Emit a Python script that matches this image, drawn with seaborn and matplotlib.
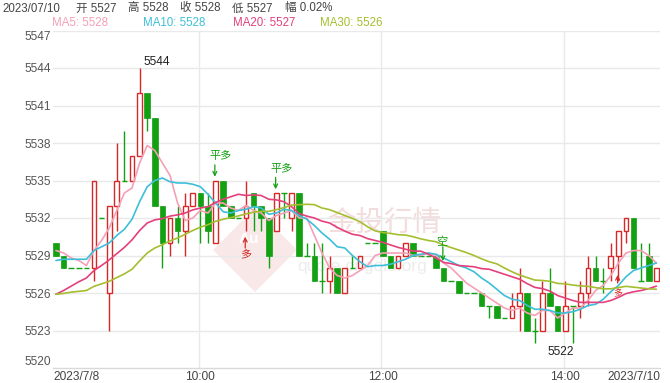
import numpy as np
import pandas as pd
import matplotlib
matplotlib.use("Agg")
import matplotlib.pyplot as plt
import seaborn as sns
from matplotlib.patches import Rectangle, Polygon
from matplotlib.transforms import ScaledTranslation

# ---------------- data (5-minute candles) ----------------
opens = [5530, 5529, 5528, 5528, 5528, 5528, 5532, 5526, 5533, 5535,
         5535, 5537, 5542, 5540, 5533, 5530, 5532, 5531, 5533, 5534,
         5533, 5530, 5535, 5533, 5532, 5532, 5534, 5533, 5532, 5531,
         5534, 5532, 5534, 5529, 5529, 5527, 5527, 5528, 5526, 5528,
         5528, 5530, 5530, 5531, 5529, 5528, 5529, 5530, 5529, 5529,
         5529, 5528, 5527, 5527, 5526, 5526, 5526, 5525, 5525, 5524,
         5524, 5525, 5526, 5523, 5523, 5526, 5525, 5523, 5525, 5525,
         5526, 5528, 5527, 5528, 5529, 5531, 5532, 5527, 5529, 5527]
highs = [5530, 5529, 5528, 5528, 5528, 5535, 5532, 5533, 5538, 5539,
         5537, 5544, 5542, 5540, 5533, 5532, 5533, 5534, 5534, 5534,
         5534, 5535, 5535, 5533, 5532, 5535, 5534, 5533, 5532, 5534,
         5534, 5534, 5534, 5530, 5530, 5530, 5529, 5528, 5528, 5529,
         5529, 5530, 5530, 5531, 5529, 5529, 5530, 5530, 5529, 5529,
         5529, 5528, 5527, 5527, 5526, 5526, 5526, 5525, 5525, 5524,
         5526, 5528, 5526, 5524, 5527, 5528, 5525, 5527, 5525, 5527,
         5529, 5529, 5528, 5530, 5531, 5532, 5532, 5530, 5530, 5528]
lows = [5529, 5528, 5528, 5528, 5528, 5527, 5532, 5523, 5531, 5535,
        5535, 5537, 5539, 5533, 5528, 5529, 5530, 5529, 5533, 5530,
        5530, 5530, 5533, 5532, 5532, 5531, 5531, 5531, 5528, 5531,
        5532, 5531, 5529, 5529, 5527, 5526, 5526, 5526, 5526, 5528,
        5528, 5530, 5530, 5529, 5528, 5528, 5529, 5529, 5529, 5529,
        5528, 5527, 5527, 5526, 5526, 5526, 5525, 5524, 5524, 5524,
        5524, 5523, 5523, 5522, 5523, 5525, 5523, 5523, 5522, 5524,
        5525, 5527, 5526, 5527, 5527, 5530, 5528, 5527, 5527, 5527]
closes = [5529, 5528, 5528, 5528, 5528, 5535, 5532, 5533, 5535, 5535,
          5537, 5542, 5540, 5533, 5530, 5532, 5531, 5533, 5534, 5533,
          5531, 5535, 5533, 5532, 5532, 5533, 5533, 5532, 5529, 5534,
          5534, 5534, 5529, 5529, 5527, 5527, 5528, 5526, 5528, 5528,
          5529, 5530, 5530, 5529, 5528, 5529, 5530, 5529, 5529, 5529,
          5528, 5527, 5527, 5526, 5526, 5526, 5525, 5525, 5524, 5524,
          5525, 5526, 5523, 5523, 5526, 5525, 5523, 5525, 5525, 5526,
          5528, 5527, 5527, 5529, 5531, 5532, 5528, 5527, 5527, 5528]
# closes of the 29 bars before the visible window (estimated from the MA start levels)
prev_closes = [5526, 5525, 5526, 5526, 5525, 5526, 5527, 5526, 5526, 5526,
               5522, 5521, 5521, 5522,
               5523, 5524, 5524, 5525, 5525, 5525,
               5527, 5528, 5528, 5528,
               5528,
               5529, 5530, 5529, 5530]

ma_periods = [5, 10, 20, 30]
ma_names = ["MA5", "MA10", "MA20", "MA30"]
ma_colors = ["#f5a0b6", "#3dbfd9", "#e4407c", "#a4be2f"]

x_tick_pos = [0, 19, 43, 67, 79]
x_tick_labels = ["2023/7/8", "10:00", "12:00", "14:00", "2023/7/10"]
y_ticks = [5520, 5523, 5526, 5529, 5532, 5535, 5538, 5541, 5544, 5547]

date_label = "2023/07/10"
signals = [(21, "平多", "down"), (29, "平多", "down"), (25, "多", "up"),
           (51, "空", "down"), (74, "多", "up")]

# ---------------- style ----------------
sns.set_theme(style="white")
plt.rcParams["font.family"] = ["Liberation Sans", "Noto Sans CJK SC", "DejaVu Sans"]

RED = "#d62828"
GREEN = "#13a013"
W, H = 670, 383

fig = plt.figure(figsize=(W / 100, H / 100), dpi=100)
ax_left, ax_right, ax_top, ax_bottom = 53, 660, 30.5, 368
ax = fig.add_axes([ax_left / W, (H - ax_bottom) / H, (ax_right - ax_left) / W, (ax_bottom - ax_top) / H])
x0_px, dx_px = 56, 7.6
ax.set_xlim((ax_left - x0_px) / dx_px, (ax_right - x0_px) / dx_px)
ax.set_ylim(5520, 5547)


def fx(px):
    return px / W


def fy(py):
    return 1 - py / H


n = len(closes)
idx = np.arange(n)

# ---------------- watermark ----------------
diamond = Polygon([(fx(213), fy(250)), (fx(255), fy(208)), (fx(297), fy(250)), (fx(255), fy(292))],
                  closed=True, transform=fig.transFigure, facecolor="#f9e8e8", edgecolor="none", zorder=0.2)
ax.add_patch(diamond)
ax.text(fx(249), fy(239), "Au", transform=fig.transFigure, color="white", fontsize=11,
        ha="center", va="center", fontweight="bold", zorder=0.3)
ax.text(fx(384), fy(223), "金投行情", transform=fig.transFigure, color="#f3dcdc", fontsize=20.5,
        ha="center", va="center", family=["Noto Sans CJK SC"], zorder=0.3)
ax.text(fx(362), fy(266), "quote.cngold.org", transform=fig.transFigure, color="#ececec", fontsize=12.5,
        ha="center", va="center", zorder=0.3)

# ---------------- grid ----------------
for yv in y_ticks[1:]:
    ax.axhline(yv, color="#e9e9e9", lw=1, zorder=0.5)
for xv in x_tick_pos[1:4]:
    ax.axvline(xv - 0.2, color="#e9e9e9", lw=1, zorder=0.5)

# ---------------- candles ----------------
bw_red, bw_green = 0.64, 0.76
for i in range(n):
    o, h, l, c = opens[i], highs[i], lows[i], closes[i]
    if c > o:
        ax.vlines(i, l, h, color=RED, lw=1, zorder=2)
        ax.add_patch(Rectangle((i - bw_red / 2, o), bw_red, c - o, facecolor="white",
                               edgecolor=RED, lw=1, zorder=3))
    elif c < o:
        ax.vlines(i, l, h, color=GREEN, lw=1, zorder=2)
        ax.add_patch(Rectangle((i - bw_green / 2, c), bw_green, o - c, facecolor=GREEN,
                               edgecolor=GREEN, lw=0.5, zorder=3))
    else:
        if h > l:
            ax.vlines(i, l, h, color=GREEN, lw=1, zorder=2)
        ax.hlines(o, i - bw_green / 2, i + bw_green / 2, color=GREEN, lw=1, zorder=3)

# ---------------- moving averages ----------------
full = pd.Series(prev_closes + closes, dtype=float)
k = len(prev_closes)
rows = []
last_vals = []
for p, name in zip(ma_periods, ma_names):
    ma = full.rolling(p).mean().iloc[k:].to_numpy()
    last_vals.append(ma[-1])
    rows.append(pd.DataFrame({"idx": idx, "value": ma, "name": name}))
ma_df = pd.concat(rows, ignore_index=True)
sns.lineplot(data=ma_df, x="idx", y="value", hue="name", hue_order=ma_names,
             palette=ma_colors, legend=False, ax=ax, linewidth=1.2, zorder=4)

# ---------------- extreme labels ----------------
imax = int(np.argmax(highs))
imin = n - 1 - int(np.argmin(lows[::-1]))   # last occurrence of the low
ax.text(imax + 0.45, max(highs) + 0.48, f"{max(highs)}", ha="left", va="center", fontsize=8.6, color="#222", zorder=6)
ax.text(imin - 1.6, min(lows) - 0.72, f"{min(lows)}", ha="center", va="center", fontsize=8.6, color="#222", zorder=6)

# ---------------- signals ----------------
for i, txt, kind in signals:
    if kind == "down":
        top = highs[i]
        col = GREEN
        tip, tail, ty = top + 0.3, top + 1.25, top + 1.95
        tx = i + 0.7 if len(txt) == 2 else i - 0.2
        if txt == "空":
            tip, tail, ty = top + 0.55, top + 1.7, top + 2.1
    else:
        low = lows[i]
        col = RED
        tip, tail, ty = low - 0.5, low - 1.4, low - 1.95
        tx = i - 0.1
        if i > 60:
            tip, tail, ty = low + 0.45, low - 0.2, low - 1.1
    ax.annotate("", xy=(i - 0.1, tip), xytext=(i - 0.1, tail),
                arrowprops=dict(arrowstyle="->", color=col, lw=0.9, shrinkA=0, shrinkB=0, mutation_scale=7),
                zorder=6)
    fs = 8 if i < 60 else 6.5
    ax.text(tx, ty, txt, ha="center", va="center", fontsize=fs, color=col,
            family=["Noto Sans CJK SC"], zorder=6)

# ---------------- axes styling ----------------
for s in ["top", "right", "left"]:
    ax.spines[s].set_visible(False)
ax.spines["bottom"].set_color("#d9d9d9")
ax.spines["bottom"].set_linewidth(1)
ax.grid(False)
ax.set_xlabel("")
ax.set_ylabel("")

ax.set_yticks(y_ticks)
ax.set_yticklabels([str(v) for v in y_ticks])
ax.tick_params(axis="y", length=0, pad=1.5, labelsize=8.6, labelcolor="#555555")
ylabels = ax.get_yticklabels()
ylabels[0].set_va("bottom")
ylabels[-1].set_va("top")

ax.set_xticks(x_tick_pos)
ax.set_xticklabels(x_tick_labels)
ax.tick_params(axis="x", length=0, pad=2.5, labelsize=8.6, labelcolor="#444444")
xlabels = ax.get_xticklabels()
xlabels[0].set_ha("left")
xlabels[0].set_transform(xlabels[0].get_transform() + ScaledTranslation(-0.03, 0, fig.dpi_scale_trans))
xlabels[-1].set_ha("right")
xlabels[-1].set_transform(xlabels[-1].get_transform() + ScaledTranslation(0.035, 0, fig.dpi_scale_trans))

# ---------------- header ----------------
chg = (closes[-1] - closes[-2]) / closes[-2] * 100
header_parts = [(date_label, 2), (f"开 {opens[-1]}", 76), (f"高 {highs[-1]}", 128),
                (f"收 {closes[-1]}", 180), (f"低 {lows[-1]}", 232), (f"幅 {chg:.2f}%", 285)]
for txt, xp in header_parts:
    fig.text(fx(xp), fy(8.5), txt, ha="left", va="center", fontsize=8.3, color="#444444")

legend_x = [52, 143, 233, 320]
for name, col, val, xp in zip(ma_names, ma_colors, last_vals, legend_x):
    fig.text(fx(xp), fy(23.5), f"{name}: {int(round(val))}", ha="left", va="center", fontsize=8.3, color=col)

fig.savefig("out.png", dpi=100, facecolor="white")
